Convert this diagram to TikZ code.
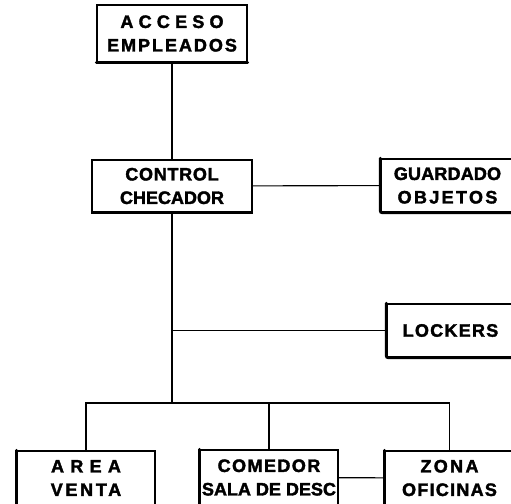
\documentclass[tikz,border=0pt]{standalone}
\usepackage{fontspec}
\setmainfont{Liberation Sans}[LetterSpace=4, BoldFeatures={FakeBold=2}]
\usetikzlibrary{positioning}
\newcommand{\spaced}[2]{{\addfontfeatures{LetterSpace=#1}#2}}

\tikzset{
  box/.style={draw, line width=1.4pt, inner sep=0pt, align=center,
    font=\bfseries\fontsize{18}{23.5}\selectfont},
  link/.style={line width=1.1pt},
  heavy/.style={line width=3pt, line cap=round, rounded corners=2pt}
}

\begin{document}
\begin{tikzpicture}[x=1pt,y=-1pt]
    \useasboundingbox (0,0) rectangle (511,503);

    % boxes
    \node[box, minimum width=150pt, minimum height=57pt] (acceso) at (172,33.5) {\spaced{29}{ACCESO}\\\spaced{11}{EMPLEADOS}};
    \node[box, minimum width=160pt, minimum height=52pt] (control) at (172,186) {CONTROL\\\spaced{0}{CHECADOR}};
    \node[box, minimum width=133pt, minimum height=53pt] (guardado) at (447.5,185.5) {\spaced{1}{GUARDADO}\\\spaced{13}{OBJETOS}};
    \node[box, minimum width=127pt, minimum height=53pt] (lockers) at (450.5,330.5) {\spaced{7}{LOCKERS}};
    \node[box, minimum width=138pt, minimum height=54pt] (area) at (86,478) {\spaced{35}{AREA}\\\spaced{15}{VENTA}};
    \node[box, minimum width=138pt, minimum height=55pt] (comedor) at (269,477.5) {\spaced{8}{COMEDOR}\\\spaced{0}{SALA DE DESC}};
    \node[box, minimum width=129pt, minimum height=54pt] (zona) at (449.5,478) {\spaced{13}{ZONA}\\\spaced{7}{OFICINAS}};

    % heavy edges
    \draw[heavy] (acceso.south west) -- (acceso.south east);
    \draw[line width=2.2pt] (control.south west) -- (control.south east);
    \draw[heavy] (guardado.north west) -- (guardado.south west) -- (guardado.south east);
    \draw[heavy] (lockers.north west) -- (lockers.south west) -- (lockers.south east);
    \draw[heavy] (area.north west) -- (area.south west);
    \draw[heavy] (comedor.north west) -- (comedor.south west);
    \draw[heavy] (zona.north west) -- (zona.south west);

    % connectors
    \coordinate (bus) at (172,403);
    \draw[link] (acceso) -- (control);
    \draw[link] (control) -- (guardado);
    \draw[link] (control.south) -- (bus);
    \draw[link] (control.south |- lockers.west) -- (lockers.west);
    \draw[link] (area.north) |- (bus) -| (zona.north);
    \draw[link] (comedor.north) -- (comedor.north |- bus);
    \draw[link] (comedor) -- (zona);
\end{tikzpicture}
\end{document}
